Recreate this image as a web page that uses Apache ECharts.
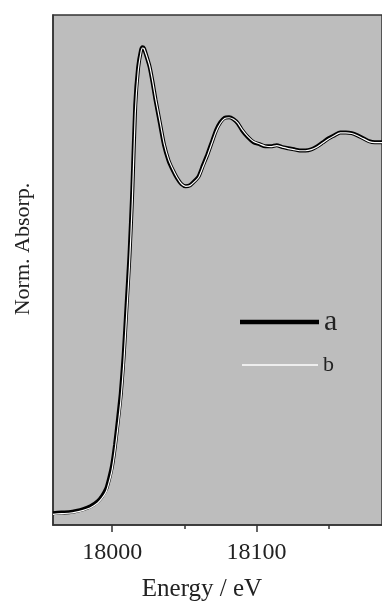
<!DOCTYPE html>
<html>
<head>
<meta charset="utf-8">
<style>html,body{margin:0;padding:0;background:#fff}#c{width:382px;height:603px}</style>
<script src="https://cdn.jsdelivr.net/npm/echarts@6/dist/echarts.min.js"></script>
</head>
<body>
<div id="c"></div>
<script>
var energy = [17959,17965,17970,17975,17980,17985,17990,17993,17996,17998,18000,18002,18004,18006,18008,18010,18012,18014,18016,18018,18020,18021,18022,18024,18026,18028,18030,18033,18036,18039,18042,18045,18048,18051,18054,18057,18060,18063,18066,18069,18072,18075,18078,18081,18084,18087,18090,18094,18098,18102,18106,18110,18114,18118,18122,18126,18130,18134,18138,18142,18146,18150,18154,18158,18162,18166,18170,18174,18178,18182,18187];
var seriesA = [-0.003,-0.001,0.000,0.003,0.008,0.016,0.030,0.044,0.065,0.093,0.128,0.183,0.251,0.324,0.428,0.564,0.700,0.880,1.110,1.212,1.259,1.267,1.264,1.240,1.213,1.172,1.125,1.062,1.000,0.959,0.932,0.910,0.894,0.888,0.891,0.902,0.916,0.946,0.975,1.008,1.041,1.063,1.075,1.076,1.071,1.060,1.041,1.022,1.008,1.003,0.997,0.997,1.000,0.995,0.992,0.989,0.986,0.986,0.989,0.997,1.008,1.019,1.027,1.035,1.035,1.033,1.027,1.019,1.011,1.008,1.008];
var seriesB = [-0.006,-0.004,-0.003,0.000,0.005,0.012,0.025,0.038,0.057,0.083,0.116,0.168,0.232,0.303,0.402,0.535,0.672,0.850,1.085,1.200,1.254,1.265,1.264,1.242,1.216,1.176,1.130,1.068,1.005,0.963,0.935,0.912,0.895,0.888,0.890,0.900,0.913,0.942,0.971,1.004,1.037,1.060,1.073,1.075,1.071,1.061,1.043,1.024,1.010,1.004,0.998,0.996,0.999,0.995,0.991,0.988,0.985,0.985,0.988,0.995,1.006,1.017,1.026,1.034,1.034,1.032,1.026,1.018,1.010,1.007,1.007];
var majorTicks = [18000, 18100];
var minorTicks = [18050, 18150];
var xName = 'Energy / eV';
var yName = 'Norm. Absorp.';

function pairs(xs, ys){ return xs.map(function(x,i){ return [x, ys[i]]; }); }

var font = 'Liberation Serif';
var chart = echarts.init(document.getElementById('c'), null, {renderer:'canvas'});
chart.setOption({
  animation: false,
  backgroundColor: '#ffffff',
  grid: { left: 53, top: 15, right: -2, bottom: 78, show: true, backgroundColor: '#bdbdbd', borderColor: '#333', borderWidth: 1.5 },
  xAxis: [
    { type: 'value', min: 17959, max: 18187,
      axisLine: { show: true, onZero: false, lineStyle: { color: '#333', width: 1.5 } },
      axisTick: { show: true, customValues: majorTicks, length: 7, lineStyle: { color: '#333', width: 1.5 } },
      axisLabel: { show: true, customValues: majorTicks, margin: 16, fontFamily: font, fontSize: 24, color: '#222',
        formatter: function(v){ return String(v); } },
      splitLine: { show: false } },
    { type: 'value', min: 17959, max: 18187, position: 'bottom',
      axisLine: { show: false, onZero: false },
      axisTick: { show: true, customValues: minorTicks, length: 4, lineStyle: { color: '#333', width: 1.5 } },
      axisLabel: { show: false },
      splitLine: { show: false } }
  ],
  yAxis: { type: 'value', min: -0.035, max: 1.355,
    axisLine: { show: true, lineStyle: { color: '#333', width: 1.5 } },
    axisTick: { show: false }, axisLabel: { show: false }, splitLine: { show: false } },
  legend: [
    { data: [{ name: 'a', icon: 'rect', textStyle: { fontSize: 30 } }], left: 235, top: 302, itemWidth: 79, itemHeight: 4.5, itemGap: 0,
      itemStyle: { color: '#000' }, textStyle: { fontFamily: font, color: '#222' } },
    { data: [{ name: 'b', icon: 'rect', textStyle: { fontSize: 22 } }], left: 237, top: 349, itemWidth: 76, itemHeight: 1.5, itemGap: 0,
      itemStyle: { color: '#fff' }, textStyle: { fontFamily: font, color: '#222' } }
  ],
  graphic: [
    { type: 'text', x: 23, y: 249, rotation: Math.PI/2,
      style: { text: yName, font: '22px "Liberation Serif"', fill: '#222', textAlign: 'center', textVerticalAlign: 'middle' } },
    { type: 'text', x: 202, y: 589,
      style: { text: xName, font: '25px "Liberation Serif"', fill: '#222', textAlign: 'center', textVerticalAlign: 'middle' } }
  ],
  series: [
    { name: 'a', type: 'line', xAxisIndex: 0, data: pairs(energy, seriesA), showSymbol: false, symbol: 'none', smooth: 0.2,
      lineStyle: { color: '#000', width: 4 }, itemStyle: { color: '#000' } },
    { name: 'b', type: 'line', xAxisIndex: 0, data: pairs(energy, seriesB), showSymbol: false, symbol: 'none', smooth: 0.2,
      lineStyle: { color: '#fff', width: 1.2 }, itemStyle: { color: '#fff' } }
  ]
});
</script>
</body>
</html>
